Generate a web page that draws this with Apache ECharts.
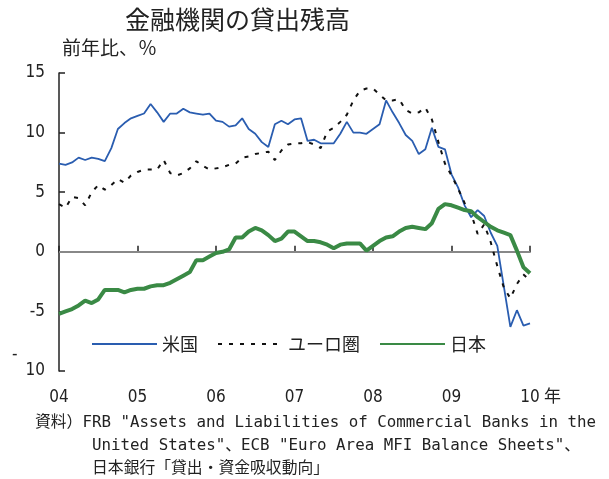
<!DOCTYPE html>
<html>
<head>
<meta charset="utf-8">
<script src="https://cdn.jsdelivr.net/npm/echarts@6/dist/echarts.min.js"></script>
<style>
html, body { margin: 0; padding: 0; background: #fff; }
#chart { width: 609px; height: 479px; }
</style>
</head>
<body>
<div id="chart"></div>
<script>
// 年ラベル（x軸）
const yearLabels = ['04', '05', '06', '07', '08', '09', '10']
// 月次カテゴリ 2004/01 - 2010/01
const months = []
for (let y = 2004; y <= 2009; y++) {
  for (let m = 1; m <= 12; m++) months.push(y + '/' + m)
}
months.push('2010/1')

const yTicks = [-10, -5, 0, 5, 10, 15]

// 前年比、%
const usLoans = [
  7.4, 7.3, 7.5, 7.9, 7.7, 7.9, 7.8, 7.6, 8.7, 10.3,
  10.8, 11.2, 11.4, 11.6, 12.4, 11.7, 10.9, 11.6, 11.6, 12.0,
  11.7, 11.6, 11.5, 11.6, 11.0, 10.9, 10.5, 10.6, 11.2, 10.3,
  9.9, 9.2, 8.8, 10.7, 11.0, 10.7, 11.1, 11.2, 9.3, 9.4,
  9.1, 9.1, 9.1, 9.9, 10.9, 10.0, 10.0, 9.9, 10.3, 10.7,
  12.7, 11.7, 10.8, 9.8, 9.3, 8.2, 8.6, 10.4, 8.8, 8.6,
  6.5, 5.4, 3.9, 2.9, 3.5, 3.0, 1.6, 0.5, -2.9, -6.3,
  -4.9, -6.2, -6.0,
]
const euroLoans = [
  4.0, 3.7, 4.6, 4.5, 3.9, 5.0, 5.6, 5.2, 5.6, 6.1,
  5.8, 6.4, 6.7, 6.9, 6.9, 6.9, 7.7, 6.6, 6.4, 6.6,
  7.0, 7.6, 7.2, 6.9, 7.0, 7.1, 7.3, 7.4, 7.9, 8.0,
  8.2, 8.3, 8.4, 7.7, 8.5, 9.0, 9.1, 9.1, 9.2, 9.0,
  8.7, 10.1, 10.4, 10.9, 11.5, 12.7, 13.5, 13.7, 13.7, 13.2,
  12.7, 12.7, 12.8, 11.9, 11.6, 11.7, 12.1, 11.1, 9.2, 7.4,
  6.4, 5.3, 4.1, 3.2, 1.5, 2.3, 0.8, -1.2, -3.0, -3.9,
  -2.7, -1.9, -2.4,
]
const japanLoans = [
  -5.2, -5.0, -4.8, -4.5, -4.1, -4.3, -4.0, -3.2, -3.2, -3.2,
  -3.4, -3.2, -3.1, -3.1, -2.9, -2.8, -2.8, -2.6, -2.3, -2.0,
  -1.7, -0.7, -0.7, -0.4, -0.1, 0.0, 0.2, 1.2, 1.2, 1.7,
  2.0, 1.8, 1.4, 0.9, 1.1, 1.7, 1.7, 1.3, 0.9, 0.9,
  0.8, 0.6, 0.3, 0.6, 0.7, 0.7, 0.7, 0.1, 0.5, 0.9,
  1.2, 1.3, 1.7, 2.0, 2.1, 2.0, 1.9, 2.4, 3.6, 4.0,
  3.9, 3.7, 3.5, 3.4, 2.9, 2.5, 2.1, 1.8, 1.6, 1.4,
  0.1, -1.3, -1.8,
]

const jpFont = "'Noto Sans CJK JP', sans-serif"
const numFont = "'Liberation Sans Narrow', 'DejaVu Sans Condensed', 'Noto Sans CJK JP', sans-serif"
const noteFont = "'DejaVu Sans Mono', 'Noto Sans CJK JP', monospace"

const chart = echarts.init(document.getElementById('chart'))

const options = {
  animation: false,
  backgroundColor: '#fff',
  grid: {
    left: 59,
    right: 79,
    top: 73,
    bottom: 108,
  },
  legend: {
    left: 86,
    top: 330,
    itemWidth: 65,
    itemHeight: 14,
    itemGap: 19,
    itemStyle: {opacity: 0},
    textStyle: {color: '#222', fontSize: 18, fontFamily: jpFont},
    data: ['米国', 'ユーロ圏', '日本'],
  },
  xAxis: {
    type: 'category',
    data: months,
    boundaryGap: false,
    axisLine: {lineStyle: {color: '#222', width: 1.5}},
    axisTick: {
      inside: true,
      length: 6,
      interval: (i) => i % 12 === 0,
      lineStyle: {color: '#222', width: 1.5},
    },
    axisLabel: {
      interval: (i) => i % 12 === 0,
      margin: 18,
      color: '#222',
      fontSize: 17,
      fontFamily: numFont,
      formatter: (v, i) => yearLabels[i / 12],
    },
    splitLine: {show: false},
  },
  yAxis: {
    type: 'value',
    min: -10,
    max: 15,
    interval: 5,
    axisLine: {show: true, lineStyle: {color: '#222', width: 1.5}},
    axisTick: {show: true, inside: true, length: 6, lineStyle: {color: '#222', width: 1.5}},
    axisLabel: {
      margin: 14,
      color: '#222',
      fontSize: 17,
      fontFamily: numFont,
      formatter: (v) => (v === yTicks[0] ? String(-v) : String(v)),
    },
    splitLine: {show: false},
  },
  series: [
    {
      name: '米国',
      type: 'line',
      data: usLoans,
      symbol: 'none',
      lineStyle: {color: '#2a5db0', width: 1.8},
      itemStyle: {color: '#2a5db0'},
      z: 3,
      markLine: {
        silent: true,
        symbol: 'none',
        label: {show: false},
        lineStyle: {color: '#888', width: 2, type: 'solid'},
        data: [{yAxis: 0}],
        z: 1,
      },
    },
    {
      name: 'ユーロ圏',
      type: 'line',
      data: euroLoans,
      symbol: 'none',
      lineStyle: {color: '#111', width: 2, type: [4, 7]},
      itemStyle: {color: '#111'},
      z: 4,
    },
    {
      name: '日本',
      type: 'line',
      data: japanLoans,
      symbol: 'none',
      lineStyle: {color: '#3a8a45', width: 4},
      itemStyle: {color: '#3a8a45'},
      z: 5,
    },
  ],
  graphic: [
    {
      type: 'text', left: 125, top: 7,
      style: {text: '金融機関の貸出残高', fontSize: 25, fontFamily: jpFont, fill: '#222'},
    },
    {
      type: 'text', left: 62, top: 38,
      style: {text: '前年比、％', fontSize: 19, fontFamily: jpFont, fill: '#222'},
    },
    {
      type: 'text', left: 12, top: 346,
      style: {text: '-', fontSize: 17, fontFamily: numFont, fill: '#222'},
    },
    {
      type: 'text', left: 544, top: 387,
      style: {text: '年', fontSize: 17, fontFamily: jpFont, fill: '#222'},
    },
    {
      type: 'text', left: 35, top: 411,
      style: {
        text: '資料）FRB "Assets and Liabilities of Commercial Banks in the\n' +
          '      United States"、ECB "Euro Area MFI Balance Sheets"、\n' +
          '      日本銀行「貸出・資金吸収動向」',
        fontSize: 15.8,
        lineHeight: 23,
        fontFamily: noteFont,
        fill: '#222',
      },
    },
  ],
}
options && chart.setOption(options)
</script>
</body>
</html>
